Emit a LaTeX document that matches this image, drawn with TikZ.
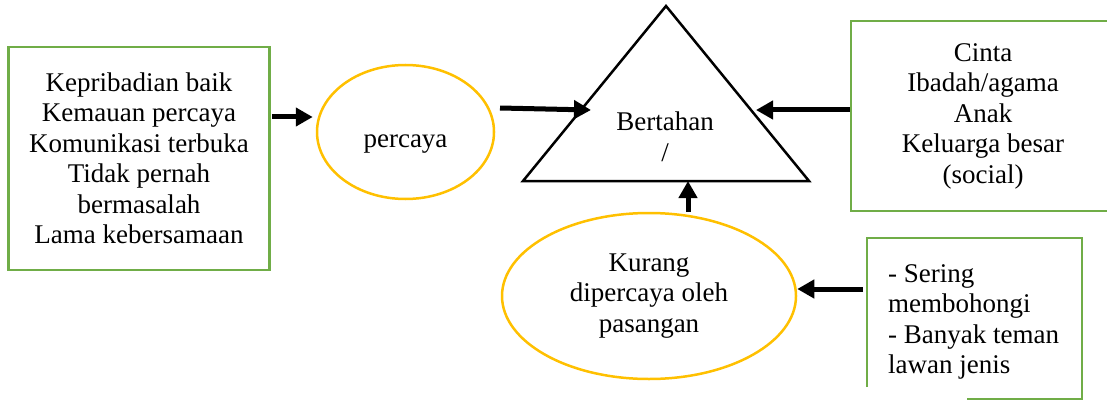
\documentclass[tikz,border=0pt]{standalone}
\usepackage{fontspec}
\setmainfont{Liberation Serif}
\usetikzlibrary{arrows.meta,shapes.geometric}

\definecolor{boxgreen}{HTML}{70AD47}
\definecolor{ringgold}{HTML}{FFC000}

\tikzset{
    greenbox/.style={draw=boxgreen,line width=2.7pt,align=center,inner sep=0pt},
    greenline/.style={draw=boxgreen,line width=2.7pt},
    ring/.style={ellipse,draw=ringgold,line width=2.5pt,align=center,inner sep=0pt},
    fatarrow/.style={line width=5pt,-{Triangle[length=17pt,width=18pt]}}
}

\begin{document}
\begin{tikzpicture}[x=1pt,y=-1pt,every node/.style={font=\fontsize{27}{30.5}\selectfont}]
    \useasboundingbox (0,0) rectangle (1107,401);

    % left box: what keeps the trust
    \node[greenbox,minimum width=261pt,minimum height=223pt] (faktor) at (139,158.5)
        {Kepribadian baik\\Kemauan percaya\\Komunikasi terbuka\\Tidak pernah\\bermasalah\\Lama kebersamaan};

    % the two ellipses
    \node[ring,minimum width=177pt,minimum height=134pt,text height=30pt,text depth=0pt] (percaya) at (405.5,132) {percaya};
    \node[ring,minimum width=294pt,minimum height=166pt] (kurang) at (649,296)
        {Kurang\\dipercaya oleh\\pasangan};

    % triangle in the middle
    \coordinate (puncak) at (666,6);
    \coordinate (kiri) at (523,181);
    \coordinate (kanan) at (809,181);
    \draw[line width=2.5pt,line join=miter] (puncak) -- (kiri) -- (kanan) -- cycle;
    \node[align=center] (bertahan) at (665,137) {Bertahan\\/};

    % right upper box, runs off the page on the right
    \node[greenbox,minimum width=264pt,minimum height=190pt] (pendukung) at (983,116)
        {Cinta\\Ibadah/agama\\Anak\\Keluarga besar\\(social)};

    % right lower box, border only partly drawn
    \draw[greenline] (867,387) -- (867,238) -- (1082,238) -- (1082,399) -- (967,399);
    \node[anchor=west,align=left,inner xsep=21pt,inner ysep=0pt] (tanda) at (867,322)
        {- Sering\\membohongi\\- Banyak teman\\lawan jenis};

    % arrows
    \coordinate (a1) at (272,117);
    \draw[fatarrow,shorten >=3pt] (a1) -- (a1 -| percaya.west);
    \coordinate (a2) at (500,108);
    \coordinate (t2) at (591,110);
    \draw[fatarrow] (a2) -- (t2);
    \coordinate (t3) at (756,110);
    \draw[fatarrow] (pendukung.west |- t3) -- (t3);
    \coordinate (a4) at (863,289);
    \draw[fatarrow] (a4) -- (a4 -| kurang.east);
    \coordinate (t5) at (688,181);
    \draw[fatarrow] (t5 |- kurang.north) -- (t5);
\end{tikzpicture}
\end{document}
